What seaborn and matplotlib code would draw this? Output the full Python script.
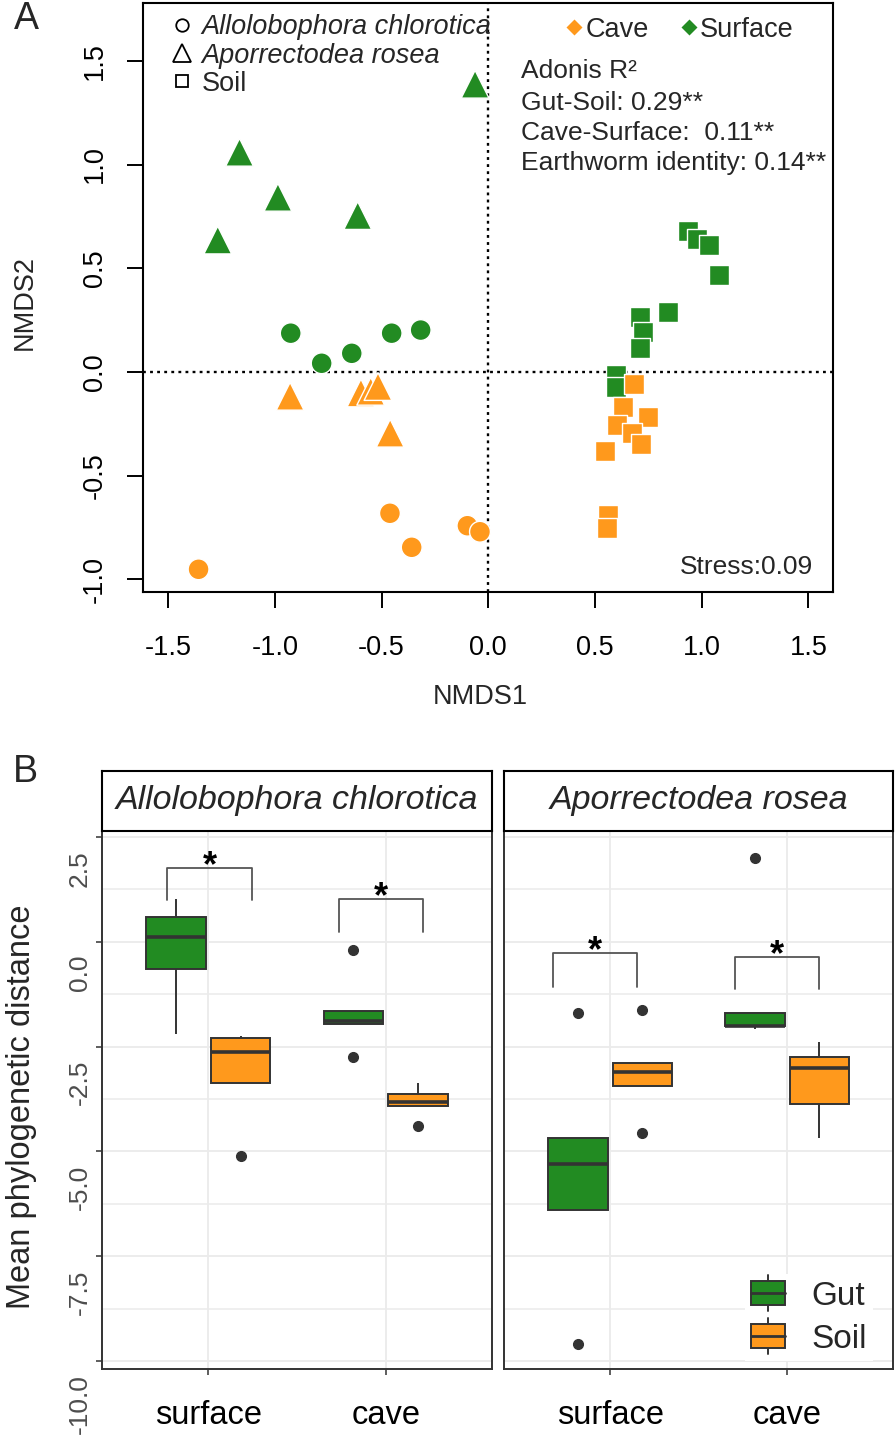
import numpy as np
import pandas as pd
import matplotlib
matplotlib.use("Agg")
import matplotlib.pyplot as plt
import seaborn as sns
from matplotlib.lines import Line2D
from matplotlib.patches import Rectangle
from matplotlib.legend_handler import HandlerBase
from matplotlib.transforms import ScaledTranslation

# ---------------- Panel A data (NMDS ordination) ----------------
rosea_x = [-0.062, -1.166, -0.986, -0.612, -1.268, -0.929, -0.597, -0.551, -0.517, -0.460]
rosea_y = [1.387, 1.059, 0.842, 0.754, 0.636, -0.117, -0.101, -0.093, -0.070, -0.295]
rosea_hab = ["Surface"] * 5 + ["Cave"] * 5

chlor_x = [-0.926, -0.781, -0.640, -0.453, -0.317, -1.358, -0.461, -0.359, -0.098, -0.039]
chlor_y = [0.187, 0.042, 0.090, 0.187, 0.202, -0.951, -0.681, -0.845, -0.741, -0.770]
chlor_hab = ["Surface"] * 5 + ["Cave"] * 5

soil_x = [0.935, 0.977, 1.036, 1.083, 0.844, 0.709, 0.727, 0.711, 0.597, 0.597,
          0.683, 0.633, 0.750, 0.605, 0.672, 0.714, 0.547, 0.563, 0.555]
soil_y = [0.680, 0.640, 0.612, 0.467, 0.288, 0.264, 0.194, 0.114, -0.014, -0.074,
          -0.059, -0.170, -0.217, -0.255, -0.295, -0.347, -0.381, -0.689, -0.753]
soil_hab = ["Surface"] * 10 + ["Cave"] * 9

adonis_lines = ["Adonis R²", "Gut-Soil: 0.29**", "Cave-Surface:  0.11**",
                "Earthworm identity: 0.14**"]
stress_text = "Stress:0.09"

# ---------------- Panel B data (mean phylogenetic distance) ----------------
species_names = ["Allolobophora chlorotica", "Aporrectodea rosea"]
habitats = ["surface", "cave"]
types = ["Gut", "Soil"]
chl_surface_gut = [-2.21, -0.64, 0.12, 0.595, 1.02]
chl_surface_soil = [-5.12, -3.36, -2.62, -2.29, -2.24]
chl_cave_gut = [-2.74, -1.95, -1.88, -1.64, -0.19]
chl_cave_soil = [-4.40, -3.92, -3.83, -3.63, -3.36]
ros_surface_gut = [-9.60, -6.40, -5.29, -4.67, -1.69]
ros_surface_soil = [-4.55, -3.43, -3.10, -2.90, -1.62]
ros_cave_gut = [-2.07, -2.02, -2.01, -1.71, 2.00]
ros_cave_soil = [-4.67, -3.88, -3.00, -2.74, -2.40]

# significance brackets: (x start, x end, top, leg bottom) per facet
chl_brackets = [(-0.233, 0.246, 1.76, 1.00), (0.737, 1.211, 1.02, 0.24)]
ros_brackets = [(-0.323, 0.152, -0.26, -1.07), (0.705, 1.180, -0.36, -1.12)]

GREEN = "#228B22"
ORANGE = "#FF991C"
DARK = "#333333"

sns.set_theme(style="ticks")
plt.rcParams["font.family"] = ["Liberation Sans", "DejaVu Sans"]

W, H = 896, 1441
fig = plt.figure(figsize=(W / 100, H / 100), dpi=100)


def fx(px):
    return px / W


def fy(py):
    return 1 - py / H


# ======================= Panel A =======================
axA = fig.add_axes([fx(143.3), fy(591.7), (833.3 - 143.3) / W, (591.7 - 3.3) / H])
dfA = pd.concat([
    pd.DataFrame({"NMDS1": chlor_x, "NMDS2": chlor_y, "habitat": chlor_hab, "grp": "chlor"}),
    pd.DataFrame({"NMDS1": rosea_x, "NMDS2": rosea_y, "habitat": rosea_hab, "grp": "rosea"}),
    pd.DataFrame({"NMDS1": soil_x, "NMDS2": soil_y, "habitat": soil_hab, "grp": "soil"}),
])
pal = {"Cave": ORANGE, "Surface": GREEN}
marker_of = {"chlor": "o", "rosea": "^", "soil": "s"}
size_of = {"chlor": 225, "rosea": 400, "soil": 210}
for g in ["soil", "chlor", "rosea"]:
    sub = dfA[dfA["grp"] == g]
    sns.scatterplot(data=sub, x="NMDS1", y="NMDS2", hue="habitat", palette=pal,
                    hue_order=["Cave", "Surface"], marker=marker_of[g], s=size_of[g],
                    edgecolor="white", linewidth=1.0, legend=False, ax=axA, zorder=3)

axA.axhline(0, color="black", ls=(0, (1.2, 1.8)), lw=1.7, zorder=1)
axA.axvline(0, color="black", ls=(0, (1.2, 1.8)), lw=1.7, zorder=1)
axA.set_xlim(-1.617, 1.617)
axA.set_ylim(-1.059, 1.777)
axA.set_xticks([-1.5, -1.0, -0.5, 0.0, 0.5, 1.0, 1.5])
axA.set_yticks([-1.0, -0.5, 0.0, 0.5, 1.0, 1.5])
axA.set_xticklabels(["-1.5", "-1.0", "-0.5", "0.0", "0.5", "1.0", "1.5"])
axA.set_yticklabels(["-1.0", "-0.5", "0.0", "0.5", "1.0", "1.5"])
for s in axA.spines.values():
    s.set_visible(True)
    s.set_color("black")
    s.set_linewidth(1.5)
axA.tick_params(axis="both", direction="out", length=11.5, width=1.4, color="black",
                labelsize=19.5, labelcolor="black")
axA.tick_params(axis="x", pad=20)
axA.tick_params(axis="y", pad=14, labelrotation=90)
for lab in axA.get_yticklabels():
    lab.set_va("center")
axA.set_xlabel("NMDS1", fontsize=19.5)
axA.set_ylabel("NMDS2", fontsize=19.5)
axA.xaxis.set_label_coords(0.488, -0.179)
axA.xaxis.label.set_va("center")
axA.yaxis.set_label_coords(-0.1714, 0.492)
axA.yaxis.label.set_va("center")

# legends for panel A
h1 = [Line2D([], [], marker="o", ls="", mfc="none", mec="black", mew=1.3, ms=9),
      Line2D([], [], marker="^", ls="", mfc="none", mec="black", mew=1.3, ms=13),
      Line2D([], [], marker="s", ls="", mfc="none", mec="black", mew=1.3, ms=9)]
leg1 = axA.legend(h1, ["Allolobophora chlorotica", "Aporrectodea rosea", "Soil"],
                  loc="upper left", bbox_to_anchor=(0.041, 0.981), frameon=False,
                  fontsize=19.5, handlelength=0.8, handletextpad=0.3, labelspacing=0.08,
                  borderpad=0, borderaxespad=0)
for t in leg1.get_texts()[:2]:
    t.set_style("italic")
axA.add_artist(leg1)
h2 = [Line2D([], [], marker="D", ls="", color=ORANGE, mec="none", ms=8),
      Line2D([], [], marker="D", ls="", color=GREEN, mec="none", ms=8)]
leg2 = axA.legend(h2, ["Cave", "Surface"], ncol=2, loc="upper left",
                  bbox_to_anchor=(0.615, 0.977), frameon=False, fontsize=19.5,
                  handlelength=0.5, handletextpad=0.15, columnspacing=1.25,
                  borderpad=0, borderaxespad=0)

ys_txt = [71, 103, 133, 163]
for line, ypix in zip(adonis_lines, ys_txt):
    axA.text(0.547, (591.7 - ypix) / 588.4, line, transform=axA.transAxes,
             fontsize=19, ha="left", va="center")
axA.text(0.9706, 0.042, stress_text, transform=axA.transAxes, fontsize=19,
         ha="right", va="center")

fig.text(fx(26), fy(19), "A", fontsize=27, ha="center", va="center")

# ======================= Panel B =======================
rows = []
for sp, hab, typ, vals in [
    (species_names[0], "surface", "Gut", chl_surface_gut),
    (species_names[0], "surface", "Soil", chl_surface_soil),
    (species_names[0], "cave", "Gut", chl_cave_gut),
    (species_names[0], "cave", "Soil", chl_cave_soil),
    (species_names[1], "surface", "Gut", ros_surface_gut),
    (species_names[1], "surface", "Soil", ros_surface_soil),
    (species_names[1], "cave", "Gut", ros_cave_gut),
    (species_names[1], "cave", "Soil", ros_cave_soil),
]:
    for v in vals:
        rows.append({"species": sp, "habitat": hab, "type": typ, "mpd": v})
dfB = pd.DataFrame(rows)

panel_bottom, panel_top = 1369, 831
strip_top = 770.7
facets = [(102, 492, species_names[0], chl_brackets),
          (504, 893.3, species_names[1], ros_brackets)]
axes_B = []
for i, (xl, xr, sp, brackets) in enumerate(facets):
    ax = fig.add_axes([fx(xl), fy(panel_bottom), (xr - xl) / W, (panel_bottom - panel_top) / H])
    axes_B.append(ax)
    sub = dfB[dfB["species"] == sp]
    sns.boxplot(data=sub, x="habitat", y="mpd", hue="type", order=habitats,
                hue_order=types, palette={"Gut": GREEN, "Soil": ORANGE}, saturation=1,
                width=0.73, gap=0.08, linecolor=DARK, linewidth=1.4, fliersize=7,
                showcaps=False, medianprops=dict(linewidth=2.6, color=DARK),
                flierprops=dict(marker="o", markerfacecolor=DARK, markeredgecolor=DARK),
                legend=False, ax=ax)
    ax.set_xlim(-0.6, 1.6)
    ax.set_ylim(-10.19, 2.643)
    ax.set_yticks([2.5, 0.0, -2.5, -5.0, -7.5, -10.0])
    ax.set_yticks([1.25, -1.25, -3.75, -6.25, -8.75], minor=True)
    ax.grid(True, which="major", color="#EBEBEB", lw=1.3)
    ax.grid(True, which="minor", axis="y", color="#EBEBEB", lw=1.1)
    ax.set_axisbelow(True)
    ax.set_xlabel("")
    ax.set_ylabel("")
    for s in ax.spines.values():
        s.set_visible(True)
        s.set_color(DARK)
        s.set_linewidth(1.4)
    ax.tick_params(axis="both", which="major", direction="out", length=4.3, width=1.1,
                   color=DARK)
    ax.tick_params(axis="y", which="minor", length=0)
    ax.tick_params(axis="x", labelsize=23.5, labelcolor="black", pad=18)
    if i == 0:
        ax.set_yticklabels(["2.5", "0.0", "-2.5", "-5.0", "-7.5", "-10.0"])
        ax.tick_params(axis="y", labelsize=19, labelcolor="#4D4D4D", pad=3)
    else:
        ax.tick_params(axis="y", which="both", length=0, labelleft=False)

    # significance brackets
    for (x0, x1, top, leg) in brackets:
        ax.plot([x0, x0, x1, x1], [leg, top, top, leg], color="#555555", lw=1.3, zorder=4)
        ax.text((x0 + x1) / 2, top - 0.2, "*", fontsize=26, fontweight="bold",
                ha="center", va="baseline", color="black", zorder=5)

    # strip
    sax = fig.add_axes([fx(xl), fy(panel_top), (xr - xl) / W, (panel_top - strip_top) / H])
    sax.set_xticks([])
    sax.set_yticks([])
    sax.set_facecolor("white")
    for s in sax.spines.values():
        s.set_visible(True)
        s.set_color("black")
        s.set_linewidth(1.5)
    sax.text(0.5, 0.5, sp, transform=sax.transAxes, fontsize=24.5, style="italic",
             ha="center", va="center")

# rotated, offset y tick labels of the left facet
off = ScaledTranslation(0, -13 / 100, fig.dpi_scale_trans)
for t in axes_B[0].yaxis.get_major_ticks():
    t.label1.set_rotation(90)
    t.label1.set_va("top")
    t.label1.set_ha("right")
    t.label1.set_transform(t.label1.get_transform() + off)


class BoxHandler(HandlerBase):
    def create_artists(self, legend, orig_handle, xdescent, ydescent, width, height,
                       fontsize, trans):
        fc = orig_handle.get_facecolor()
        x0, y0 = -xdescent, -ydescent
        ext = 0.26 * height
        wt = Line2D([x0 + width / 2] * 2, [y0 + height, y0 + height + ext], color=DARK,
                    lw=1.4, transform=trans)
        wb = Line2D([x0 + width / 2] * 2, [y0 - ext, y0], color=DARK, lw=1.4,
                    transform=trans)
        rect = Rectangle((x0, y0), width, height, facecolor=fc, edgecolor=DARK, lw=1.4,
                         transform=trans)
        med = Line2D([x0, x0 + width], [y0 + height / 2] * 2, color=DARK, lw=2.0,
                     transform=trans)
        return [wt, wb, rect, med]


hB = [Rectangle((0, 0), 1, 1, facecolor=GREEN), Rectangle((0, 0), 1, 1, facecolor=ORANGE)]
axes_B[1].legend(hB, types, handler_map={Rectangle: BoxHandler()}, loc="upper left",
                 bbox_to_anchor=(fx(744.6), fy(1274)), bbox_transform=fig.transFigure,
                 fontsize=24, frameon=True, fancybox=False, facecolor="white",
                 edgecolor="none", framealpha=1, handlelength=1.0, handleheight=0.7,
                 handletextpad=0.8, labelspacing=0.36, borderpad=0.2, borderaxespad=0)

fig.text(fx(22), fy(1107), "Mean phylogenetic distance", rotation=90, fontsize=23.5,
         ha="center", va="center")
fig.text(fx(25.5), fy(772), "B", fontsize=27, ha="center", va="center")

fig.savefig("out.png", dpi=100)
